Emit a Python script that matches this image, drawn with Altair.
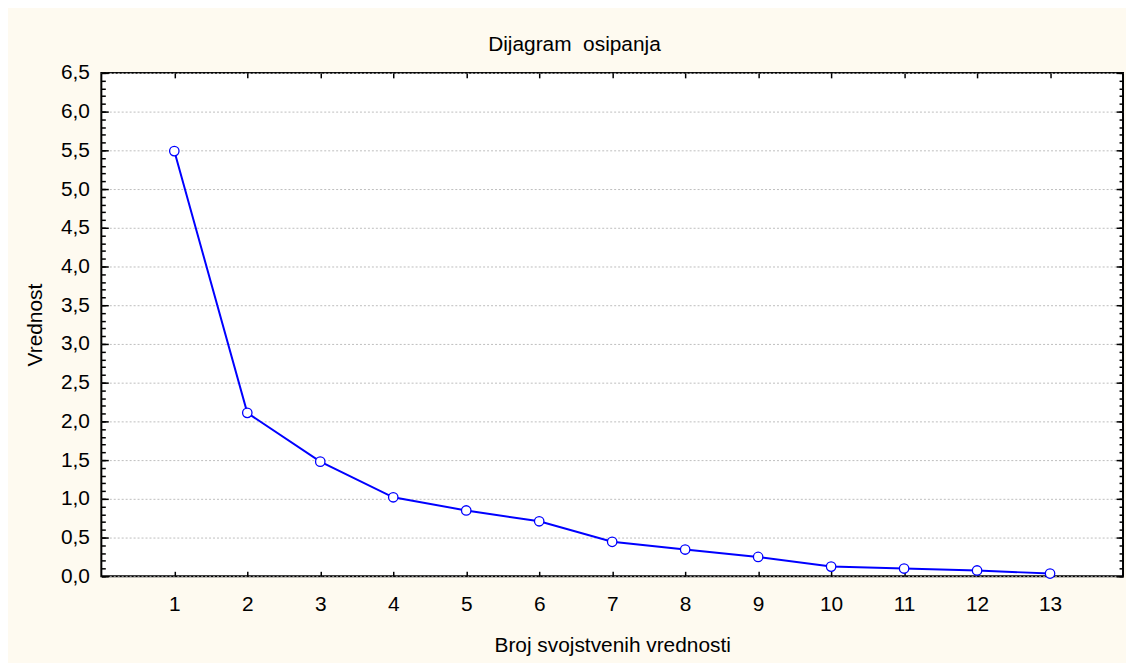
import altair as alt
import pandas as pd

# ---- data ----
components = [1, 2, 3, 4, 5, 6, 7, 8, 9, 10, 11, 12, 13]
eigenvalues = [5.49, 2.11, 1.48, 1.02, 0.85, 0.71, 0.445, 0.345, 0.25, 0.125, 0.10, 0.075, 0.035]

x_ticks = [1, 2, 3, 4, 5, 6, 7, 8, 9, 10, 11, 12, 13]
y_major = [0.0, 0.5, 1.0, 1.5, 2.0, 2.5, 3.0, 3.5, 4.0, 4.5, 5.0, 5.5, 6.0, 6.5]
y_minor = [round(i * 0.1, 1) for i in range(66)]

title_text = "Dijagram\u00a0 osipanja"
x_title = "Broj svojstvenih vrednosti"
y_title = "Vrednost"

df = pd.DataFrame({"n": components, "v": eigenvalues})

FONT = "Liberation Sans"
BLUE = "#0000FF"
FS = 21

x_scale = alt.Scale(domain=[0, 14], nice=False, zero=False)
y_scale = alt.Scale(domain=[0, 6.5], nice=False)
fmt = "replace(format(datum.value, '.1f'), '.', ',')"

base = alt.Chart(df)


def tick_axis(orient, values, size):
    return alt.Axis(
        orient=orient, values=values, labels=False, ticks=True,
        tickSize=alt.ExprRef(expr=str(-size)), tickColor="black", tickWidth=1.5,
        domain=False, grid=False, title=None,
    )


# axis with labels (bottom / left) + grid
line = base.mark_line(color=BLUE, strokeWidth=2).encode(
    x=alt.X("n:Q", scale=x_scale, axis=alt.Axis(
        orient="bottom", values=x_ticks, format="d", labelFontSize=FS,
        labelPadding=17, ticks=False, tickSize=0, domain=False, grid=False,
        labelFlush=False, labelOverlap=False, labelColor="black",
        title=x_title, titleFontSize=FS, titleFontWeight="normal", titleColor="black",
        titleY=76, titleBaseline="alphabetic",
    )),
    y=alt.Y("v:Q", scale=y_scale, axis=alt.Axis(
        orient="left", values=y_major, labelExpr=fmt, labelFontSize=FS,
        labelPadding=12, ticks=False, tickSize=0, domain=False,
        labelFlush=False, labelOverlap=False, labelColor="black",
        grid=True, gridDash=[2, 2], gridColor="#BDBDBD", gridWidth=1,
        title=y_title, titleFontSize=FS, titleFontWeight="normal", titleColor="black",
        titleAngle=270, titleBaseline="alphabetic", titleX=-60, titleY=253.5,
    )),
)

points = base.mark_point(
    filled=True, fill="white", stroke=BLUE, strokeWidth=1.3, size=90,
    opacity=1, fillOpacity=1, strokeOpacity=1,
).encode(
    x=alt.X("n:Q", scale=x_scale, axis=tick_axis("top", x_ticks, 5)),
    y=alt.Y("v:Q", scale=y_scale, axis=tick_axis("right", y_major, 7)),
)

ticks_c = base.mark_point(opacity=0).encode(
    x=alt.X("n:Q", scale=x_scale, axis=tick_axis("bottom", x_ticks, 5)),
    y=alt.Y("v:Q", scale=y_scale, axis=tick_axis("left", y_major, 7)),
)

ticks_d = base.mark_point(opacity=0).encode(
    x=alt.X("n:Q", scale=x_scale, axis=None),
    y=alt.Y("v:Q", scale=y_scale, axis=tick_axis("left", y_minor, 4)),
)

ticks_e = base.mark_point(opacity=0).encode(
    x=alt.X("n:Q", scale=x_scale, axis=None),
    y=alt.Y("v:Q", scale=y_scale, axis=tick_axis("right", y_minor, 4)),
)

chart = alt.layer(ticks_c, ticks_d, ticks_e, line, points).resolve_axis(
    x="independent", y="independent"
).properties(
    width=1029,
    height=507,
    autosize=alt.AutoSizeParams(type="none"),
    padding={"left": 94, "top": 63, "right": 3, "bottom": 85},
    background="#FEFAF0",
    title=alt.TitleParams(
        title_text, fontSize=FS, fontWeight="normal", font=FONT, color="black",
        anchor="middle", dx=-38, offset=7,
    ),
).configure(
    font=FONT,
).configure_view(
    fill="white", stroke="black", strokeWidth=2,
)

chart.save("out.html", embed_options={"renderer": "svg", "actions": False})
